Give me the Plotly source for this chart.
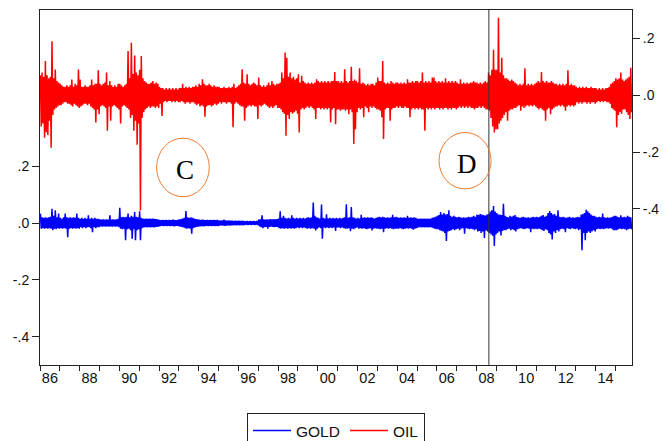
import numpy as np
import plotly.graph_objects as go

# ---- data: monthly high / low of daily returns, Jan 1986 .. Oct 2015 ----
START_YEAR = 1986

OIL_HI = [
    0.07, 0.08, 0.065, 0.12, 0.07, 0.06, 0.065, 0.19, 0.06, 0.09, 0.05, 0.045,      # 1986
    0.04, 0.035, 0.03, 0.03, 0.035, 0.03, 0.035, 0.055, 0.03, 0.04, 0.035, 0.09,     # 1987
    0.055, 0.03, 0.03, 0.035, 0.03, 0.03, 0.035, 0.055, 0.035, 0.04, 0.04, 0.088,    # 1988
    0.04, 0.035, 0.04, 0.045, 0.08, 0.035, 0.05, 0.035, 0.03, 0.035, 0.03, 0.04,     # 1989
    0.04, 0.035, 0.03, 0.035, 0.04, 0.156, 0.06, 0.185, 0.075, 0.14, 0.08, 0.07,     # 1990
    0.09, 0.138, 0.06, 0.05, 0.045, 0.04, 0.04, 0.045, 0.05, 0.04, 0.045, 0.04,      # 1991
    0.03, 0.025, 0.025, 0.02, 0.025, 0.02, 0.025, 0.02, 0.025, 0.02, 0.025, 0.02,    # 1992
    0.025, 0.025, 0.04, 0.025, 0.03, 0.025, 0.03, 0.025, 0.03, 0.03, 0.035, 0.03,    # 1993
    0.04, 0.035, 0.056, 0.04, 0.035, 0.035, 0.04, 0.035, 0.03, 0.035, 0.03, 0.03,    # 1994
    0.03, 0.025, 0.025, 0.03, 0.025, 0.025, 0.03, 0.025, 0.03, 0.04, 0.025, 0.03,    # 1995
    0.035, 0.04, 0.091, 0.045, 0.04, 0.074, 0.04, 0.035, 0.04, 0.045, 0.04, 0.035,   # 1996
    0.062, 0.035, 0.03, 0.035, 0.03, 0.035, 0.045, 0.035, 0.05, 0.04, 0.035, 0.04,   # 1997
    0.04, 0.045, 0.08, 0.06, 0.15, 0.132, 0.065, 0.08, 0.06, 0.065, 0.055, 0.06,     # 1998
    0.074, 0.045, 0.068, 0.05, 0.045, 0.04, 0.045, 0.04, 0.045, 0.04, 0.045, 0.056,  # 1999
    0.05, 0.045, 0.05, 0.045, 0.05, 0.045, 0.05, 0.045, 0.05, 0.05, 0.082, 0.05,     # 2000
    0.05, 0.045, 0.05, 0.045, 0.091, 0.05, 0.045, 0.05, 0.1, 0.05, 0.055, 0.05,      # 2001
    0.045, 0.095, 0.04, 0.045, 0.04, 0.035, 0.04, 0.035, 0.04, 0.04, 0.035, 0.045,   # 2002
    0.062, 0.05, 0.05, 0.12, 0.045, 0.04, 0.045, 0.04, 0.05, 0.045, 0.04, 0.045,     # 2003
    0.045, 0.04, 0.045, 0.04, 0.045, 0.04, 0.056, 0.045, 0.045, 0.05, 0.045, 0.05,   # 2004
    0.05, 0.045, 0.05, 0.08, 0.045, 0.05, 0.045, 0.05, 0.045, 0.062, 0.062, 0.05,    # 2005
    0.045, 0.05, 0.045, 0.05, 0.045, 0.06, 0.045, 0.05, 0.045, 0.05, 0.045, 0.05,    # 2006
    0.045, 0.04, 0.056, 0.04, 0.045, 0.04, 0.045, 0.04, 0.045, 0.045, 0.05, 0.045,   # 2007
    0.045, 0.04, 0.045, 0.04, 0.045, 0.05, 0.045, 0.08, 0.07, 0.09, 0.16, 0.09,      # 2008
    0.09, 0.273, 0.08, 0.132, 0.07, 0.06, 0.06, 0.055, 0.05, 0.055, 0.05, 0.045,     # 2009
    0.04, 0.035, 0.04, 0.035, 0.04, 0.095, 0.035, 0.04, 0.035, 0.04, 0.035, 0.04,    # 2010
    0.045, 0.05, 0.045, 0.082, 0.05, 0.045, 0.05, 0.045, 0.045, 0.05, 0.045, 0.04,   # 2011
    0.04, 0.035, 0.04, 0.035, 0.04, 0.035, 0.04, 0.088, 0.035, 0.04, 0.035, 0.035,   # 2012
    0.03, 0.025, 0.03, 0.025, 0.03, 0.025, 0.03, 0.025, 0.025, 0.03, 0.025, 0.025,   # 2013
    0.025, 0.02, 0.025, 0.02, 0.025, 0.02, 0.025, 0.025, 0.03, 0.04, 0.045, 0.05,    # 2014
    0.06, 0.055, 0.06, 0.08, 0.055, 0.05, 0.055, 0.06, 0.065, 0.097,                 # 2015
]

OIL_LO = [
    -0.11, -0.10, -0.15, -0.13, -0.14, -0.09, -0.185, -0.07, -0.05, -0.045, -0.04, -0.035,    # 1986
    -0.035, -0.03, -0.025, -0.025, -0.03, -0.03, -0.035, -0.04, -0.03, -0.035, -0.04, -0.045, # 1987
    -0.04, -0.035, -0.03, -0.03, -0.035, -0.03, -0.04, -0.045, -0.05, -0.096, -0.05, -0.067,  # 1988
    -0.04, -0.035, -0.04, -0.045, -0.125, -0.04, -0.09, -0.04, -0.035, -0.04, -0.045, -0.05,  # 1989
    -0.10, -0.04, -0.035, -0.04, -0.045, -0.05, -0.08, -0.07, -0.125, -0.09, -0.174, -0.10,   # 1990
    -0.406, -0.08, -0.06, -0.05, -0.045, -0.04, -0.045, -0.04, -0.04, -0.045, -0.04, -0.045,  # 1991
    -0.03, -0.073, -0.025, -0.02, -0.025, -0.02, -0.02, -0.025, -0.02, -0.025, -0.02, -0.025, # 1992
    -0.025, -0.02, -0.025, -0.03, -0.025, -0.025, -0.03, -0.025, -0.025, -0.03, -0.035, -0.03,# 1993
    -0.04, -0.035, -0.04, -0.076, -0.04, -0.035, -0.035, -0.04, -0.035, -0.03, -0.035, -0.03, # 1994
    -0.025, -0.03, -0.025, -0.025, -0.03, -0.025, -0.025, -0.03, -0.113, -0.03, -0.025, -0.03,# 1995
    -0.035, -0.04, -0.04, -0.09, -0.045, -0.04, -0.035, -0.04, -0.035, -0.04, -0.04, -0.084,  # 1996
    -0.035, -0.04, -0.035, -0.03, -0.035, -0.04, -0.045, -0.04, -0.045, -0.04, -0.035, -0.045,# 1997
    -0.045, -0.05, -0.06, -0.065, -0.143, -0.07, -0.084, -0.06, -0.065, -0.06, -0.055, -0.065,# 1998
    -0.131, -0.05, -0.045, -0.05, -0.045, -0.04, -0.045, -0.04, -0.045, -0.05, -0.084, -0.045,# 1999
    -0.045, -0.05, -0.045, -0.05, -0.045, -0.05, -0.045, -0.096, -0.05, -0.045, -0.102, -0.05,# 2000
    -0.05, -0.055, -0.05, -0.05, -0.055, -0.05, -0.067, -0.05, -0.06, -0.172, -0.12, -0.06,   # 2001
    -0.045, -0.05, -0.045, -0.078, -0.04, -0.045, -0.06, -0.04, -0.045, -0.04, -0.045, -0.05, # 2002
    -0.05, -0.055, -0.078, -0.154, -0.05, -0.045, -0.045, -0.09, -0.05, -0.045, -0.045, -0.04,# 2003
    -0.045, -0.04, -0.045, -0.045, -0.04, -0.045, -0.045, -0.078, -0.05, -0.045, -0.05, -0.045,# 2004
    -0.05, -0.045, -0.05, -0.05, -0.125, -0.045, -0.05, -0.045, -0.05, -0.045, -0.05, -0.045, # 2005
    -0.045, -0.05, -0.045, -0.05, -0.045, -0.045, -0.05, -0.045, -0.05, -0.045, -0.045, -0.05,# 2006
    -0.045, -0.04, -0.045, -0.04, -0.045, -0.04, -0.045, -0.04, -0.045, -0.045, -0.05, -0.045,# 2007
    -0.045, -0.04, -0.045, -0.04, -0.045, -0.05, -0.05, -0.055, -0.08, -0.11, -0.131, -0.12,  # 2008
    -0.12, -0.10, -0.09, -0.08, -0.07, -0.06, -0.09, -0.055, -0.05, -0.05, -0.045, -0.045,    # 2009
    -0.04, -0.035, -0.055, -0.04, -0.045, -0.04, -0.035, -0.04, -0.035, -0.04, -0.035, -0.04, # 2010
    -0.045, -0.05, -0.045, -0.05, -0.055, -0.09, -0.05, -0.045, -0.067, -0.05, -0.045, -0.04, # 2011
    -0.04, -0.035, -0.04, -0.035, -0.04, -0.055, -0.04, -0.035, -0.04, -0.035, -0.04, -0.035, # 2012
    -0.025, -0.03, -0.025, -0.03, -0.025, -0.025, -0.03, -0.025, -0.03, -0.025, -0.025, -0.03,# 2013
    -0.025, -0.02, -0.025, -0.02, -0.025, -0.02, -0.025, -0.025, -0.03, -0.045, -0.05, -0.055,# 2014
    -0.113, -0.07, -0.06, -0.065, -0.05, -0.05, -0.06, -0.07, -0.084, -0.06,                  # 2015
]

GOLD_HI = [
    0.033, 0.02, 0.018, 0.02, 0.018, 0.02, 0.022, 0.05, 0.025, 0.045, 0.02, 0.033,      # 1986
    0.018, 0.015, 0.02, 0.033, 0.02, 0.018, 0.02, 0.018, 0.02, 0.018, 0.033, 0.018,     # 1987
    0.015, 0.018, 0.015, 0.018, 0.015, 0.027, 0.015, 0.018, 0.015, 0.018, 0.015, 0.015, # 1988
    0.013, 0.012, 0.013, 0.012, 0.013, 0.012, 0.027, 0.012, 0.013, 0.012, 0.013, 0.015, # 1989
    0.054, 0.02, 0.022, 0.02, 0.022, 0.033, 0.02, 0.025, 0.022, 0.039, 0.022, 0.02,     # 1990
    0.041, 0.018, 0.016, 0.015, 0.016, 0.015, 0.016, 0.015, 0.016, 0.015, 0.014, 0.013, # 1991
    0.011, 0.01, 0.011, 0.01, 0.011, 0.01, 0.011, 0.01, 0.012, 0.011, 0.01, 0.011,      # 1992
    0.013, 0.014, 0.016, 0.018, 0.042, 0.02, 0.018, 0.02, 0.018, 0.016, 0.014, 0.013,   # 1993
    0.012, 0.011, 0.012, 0.011, 0.01, 0.011, 0.01, 0.011, 0.01, 0.011, 0.01, 0.011,     # 1994
    0.009, 0.008, 0.009, 0.012, 0.009, 0.008, 0.009, 0.008, 0.008, 0.007, 0.008, 0.007, # 1995
    0.008, 0.007, 0.008, 0.007, 0.006, 0.007, 0.006, 0.007, 0.006, 0.007, 0.006, 0.007, # 1996
    0.012, 0.013, 0.027, 0.013, 0.012, 0.013, 0.012, 0.014, 0.013, 0.014, 0.013, 0.014, # 1997
    0.016, 0.041, 0.018, 0.025, 0.018, 0.016, 0.018, 0.016, 0.027, 0.018, 0.016, 0.018, # 1998
    0.016, 0.018, 0.016, 0.018, 0.016, 0.018, 0.02, 0.018, 0.02, 0.072, 0.025, 0.02,    # 1999
    0.018, 0.016, 0.065, 0.018, 0.016, 0.031, 0.016, 0.018, 0.016, 0.018, 0.016, 0.018, # 2000
    0.016, 0.018, 0.016, 0.018, 0.02, 0.066, 0.018, 0.02, 0.056, 0.02, 0.018, 0.016,    # 2001
    0.018, 0.016, 0.029, 0.018, 0.02, 0.018, 0.02, 0.018, 0.02, 0.018, 0.016, 0.018,    # 2002
    0.02, 0.022, 0.02, 0.022, 0.02, 0.018, 0.02, 0.018, 0.02, 0.029, 0.02, 0.022,       # 2003
    0.02, 0.018, 0.02, 0.018, 0.02, 0.018, 0.025, 0.018, 0.02, 0.018, 0.02, 0.018,      # 2004
    0.016, 0.015, 0.016, 0.015, 0.016, 0.015, 0.016, 0.015, 0.016, 0.018, 0.02, 0.022,  # 2005
    0.025, 0.028, 0.039, 0.03, 0.035, 0.03, 0.032, 0.045, 0.025, 0.022, 0.025, 0.022,   # 2006
    0.02, 0.022, 0.02, 0.018, 0.02, 0.018, 0.02, 0.022, 0.02, 0.022, 0.025, 0.022,      # 2007
    0.03, 0.028, 0.032, 0.03, 0.028, 0.026, 0.03, 0.032, 0.04, 0.045, 0.06, 0.04,       # 2008
    0.035, 0.03, 0.03, 0.028, 0.068, 0.025, 0.022, 0.02, 0.025, 0.022, 0.025, 0.028,    # 2009
    0.022, 0.02, 0.018, 0.02, 0.022, 0.02, 0.018, 0.02, 0.018, 0.02, 0.022, 0.02,       # 2010
    0.022, 0.02, 0.022, 0.025, 0.028, 0.022, 0.025, 0.035, 0.042, 0.035, 0.03, 0.032,   # 2011
    0.025, 0.045, 0.022, 0.02, 0.022, 0.02, 0.018, 0.02, 0.022, 0.018, 0.02, 0.018,     # 2012
    0.02, 0.022, 0.02, 0.03, 0.032, 0.035, 0.047, 0.041, 0.035, 0.03, 0.025, 0.025,     # 2013
    0.022, 0.02, 0.022, 0.02, 0.033, 0.02, 0.018, 0.02, 0.018, 0.02, 0.022, 0.025,      # 2014
    0.025, 0.022, 0.02, 0.027, 0.02, 0.022, 0.02, 0.025, 0.022, 0.02,                   # 2015
]

GOLD_LO = [
    -0.02, -0.018, -0.02, -0.018, -0.02, -0.018, -0.02, -0.025, -0.02, -0.022, -0.018, -0.02,      # 1986
    -0.018, -0.02, -0.018, -0.02, -0.05, -0.02, -0.018, -0.02, -0.018, -0.02, -0.018, -0.02,       # 1987
    -0.015, -0.018, -0.015, -0.018, -0.015, -0.015, -0.018, -0.032, -0.015, -0.018, -0.015, -0.015,# 1988
    -0.012, -0.013, -0.012, -0.013, -0.012, -0.013, -0.012, -0.013, -0.012, -0.013, -0.012, -0.015,# 1989
    -0.02, -0.022, -0.02, -0.061, -0.022, -0.02, -0.025, -0.055, -0.022, -0.061, -0.025, -0.022,   # 1990
    -0.061, -0.018, -0.016, -0.015, -0.016, -0.015, -0.016, -0.015, -0.016, -0.015, -0.014, -0.013,# 1991
    -0.011, -0.01, -0.011, -0.01, -0.011, -0.01, -0.011, -0.01, -0.012, -0.011, -0.01, -0.011,     # 1992
    -0.013, -0.014, -0.016, -0.018, -0.02, -0.018, -0.02, -0.038, -0.018, -0.016, -0.014, -0.013,  # 1993
    -0.012, -0.011, -0.012, -0.011, -0.01, -0.011, -0.01, -0.011, -0.01, -0.011, -0.01, -0.011,    # 1994
    -0.009, -0.008, -0.009, -0.01, -0.009, -0.008, -0.009, -0.008, -0.008, -0.007, -0.008, -0.007, # 1995
    -0.008, -0.007, -0.008, -0.007, -0.006, -0.007, -0.006, -0.007, -0.006, -0.007, -0.006, -0.007,# 1996
    -0.012, -0.015, -0.018, -0.015, -0.014, -0.02, -0.014, -0.013, -0.014, -0.015, -0.014, -0.015, # 1997
    -0.018, -0.02, -0.018, -0.02, -0.018, -0.02, -0.018, -0.02, -0.018, -0.02, -0.018, -0.016,     # 1998
    -0.018, -0.016, -0.018, -0.016, -0.018, -0.02, -0.018, -0.02, -0.018, -0.02, -0.026, -0.02,    # 1999
    -0.016, -0.018, -0.055, -0.016, -0.018, -0.016, -0.018, -0.016, -0.018, -0.016, -0.028, -0.016,# 2000
    -0.016, -0.018, -0.016, -0.018, -0.02, -0.02, -0.018, -0.029, -0.02, -0.022, -0.018, -0.016,   # 2001
    -0.02, -0.018, -0.02, -0.018, -0.02, -0.022, -0.02, -0.018, -0.026, -0.02, -0.018, -0.02,      # 2002
    -0.02, -0.022, -0.02, -0.032, -0.02, -0.018, -0.02, -0.018, -0.02, -0.022, -0.02, -0.02,       # 2003
    -0.02, -0.018, -0.02, -0.022, -0.02, -0.018, -0.02, -0.018, -0.02, -0.024, -0.02, -0.018,      # 2004
    -0.016, -0.015, -0.016, -0.015, -0.016, -0.015, -0.016, -0.015, -0.016, -0.018, -0.02, -0.022, # 2005
    -0.022, -0.025, -0.028, -0.03, -0.035, -0.063, -0.03, -0.028, -0.025, -0.022, -0.025, -0.022,  # 2006
    -0.02, -0.025, -0.02, -0.018, -0.038, -0.018, -0.02, -0.022, -0.02, -0.022, -0.025, -0.022,    # 2007
    -0.03, -0.028, -0.035, -0.03, -0.053, -0.026, -0.03, -0.035, -0.04, -0.045, -0.081, -0.04,     # 2008
    -0.035, -0.03, -0.044, -0.028, -0.025, -0.025, -0.022, -0.02, -0.025, -0.022, -0.025, -0.03,   # 2009
    -0.022, -0.02, -0.018, -0.02, -0.022, -0.02, -0.018, -0.02, -0.032, -0.02, -0.022, -0.02,      # 2010
    -0.022, -0.02, -0.022, -0.025, -0.028, -0.022, -0.025, -0.035, -0.04, -0.058, -0.03, -0.035,   # 2011
    -0.025, -0.03, -0.022, -0.02, -0.022, -0.032, -0.018, -0.02, -0.022, -0.018, -0.02, -0.022,    # 2012
    -0.02, -0.025, -0.022, -0.096, -0.035, -0.061, -0.035, -0.03, -0.035, -0.03, -0.025, -0.03,    # 2013
    -0.022, -0.02, -0.022, -0.02, -0.022, -0.02, -0.018, -0.02, -0.018, -0.02, -0.025, -0.025,     # 2014
    -0.025, -0.022, -0.02, -0.022, -0.02, -0.022, -0.025, -0.022, -0.02, -0.022,                   # 2015
]

X_TICK_YEARS = list(range(1986, 2015, 2))
X_TICK_TEXT = ["86", "88", "90", "92", "94", "96", "98", "00",
               "02", "04", "06", "08", "10", "12", "14"]
Y_TICK_VALS = [-0.4, -0.2, 0.0, 0.2]
Y_TICK_TEXT = ["-.4", "-.2", ".0", ".2"]
EVENT_DATE = 2008.62   # vertical marker (Sept 2008)
LABELS = ["C", "D"]


def zigzag(hi, lo):
    """interleave monthly high/low into a time-ordered series"""
    n = len(hi)
    idx = np.arange(n)
    t_hi = START_YEAR + (idx + 0.25) / 12.0
    t_lo = START_YEAR + (idx + 0.75) / 12.0
    t = np.empty(2 * n)
    v = np.empty(2 * n)
    t[0::2], t[1::2] = t_hi, t_lo
    v[0::2], v[1::2] = hi, lo
    return t, v


tg, vg = zigzag(GOLD_HI, GOLD_LO)
to, vo = zigzag(OIL_HI, OIL_LO)
x_end = START_YEAR + len(OIL_HI) / 12.0

FONT = "Liberation Sans, Arial, sans-serif"

fig = go.Figure()
fig.add_trace(go.Scatter(x=tg, y=vg, mode="lines", name="GOLD",
                         line=dict(color="#0000FF", width=1.5), yaxis="y"))
fig.add_trace(go.Scatter(x=to, y=vo, mode="lines", name="OIL",
                         line=dict(color="#FF0000", width=1.5), yaxis="y2"))

axis_common = dict(showline=True, linecolor="#222", linewidth=1,
                   showgrid=False, zeroline=False, automargin=False)

fig.update_layout(
    width=663, height=441,
    margin=dict(l=40, r=31, t=10, b=76),
    paper_bgcolor="white", plot_bgcolor="white",
    font=dict(family=FONT, size=14, color="#111"),
    xaxis=dict(range=[START_YEAR, x_end],
               tickvals=[y + 0.5 for y in X_TICK_YEARS], ticktext=X_TICK_TEXT,
               ticks="", mirror=True,
               tickfont=dict(family=FONT, size=14.5, color="#111"),
               minor=dict(tick0=START_YEAR, dtick=1, ticks="outside",
                          ticklen=5, tickcolor="#222", showgrid=False),
               **axis_common),
    yaxis=dict(range=[-0.5, 0.75], tickvals=Y_TICK_VALS, ticktext=Y_TICK_TEXT,
               ticks="outside", ticklen=7, tickcolor="#222",
               tickfont=dict(family=FONT, size=14, color="#111"), **axis_common),
    yaxis2=dict(range=[-0.95, 0.30], tickvals=Y_TICK_VALS, ticktext=Y_TICK_TEXT,
                overlaying="y", side="right",
                ticks="outside", ticklen=7, tickcolor="#222",
                tickfont=dict(family=FONT, size=14, color="#111"), **axis_common),
    legend=dict(orientation="h", x=0.5, xanchor="center",
                yref="container", y=1 - 413 / 441, yanchor="top",
                itemwidth=38,
                bordercolor="#222", borderwidth=1, bgcolor="white",
                font=dict(family=FONT, size=15.5, color="#111")),
    showlegend=True,
)

# vertical event line
fig.add_shape(type="line", xref="x", yref="paper", x0=EVENT_DATE, x1=EVENT_DATE,
              y0=0, y1=1, line=dict(color="#333", width=1))

# circled labels
circles = [(0.197, 0.474, 0.286, 0.639), (0.674, 0.496, 0.762, 0.655)]
for (x0, y0, x1, y1), lab in zip(circles, LABELS):
    fig.add_shape(type="circle", xref="paper", yref="paper",
                  x0=x0, y0=y0, x1=x1, y1=y1,
                  line=dict(color="#ED7D31", width=1))
    fig.add_annotation(xref="paper", yref="paper", x=(x0 + x1) / 2 + 0.004,
                       y=(y0 + y1) / 2 - 0.008, xanchor="center", yanchor="middle",
                       text=lab, showarrow=False,
                       font=dict(family="Liberation Serif, Times New Roman, serif",
                                 size=27, color="#000"))

fig.write_html("out.html", config={"displayModeBar": False},
               post_script="document.body.style.margin='0px';")
